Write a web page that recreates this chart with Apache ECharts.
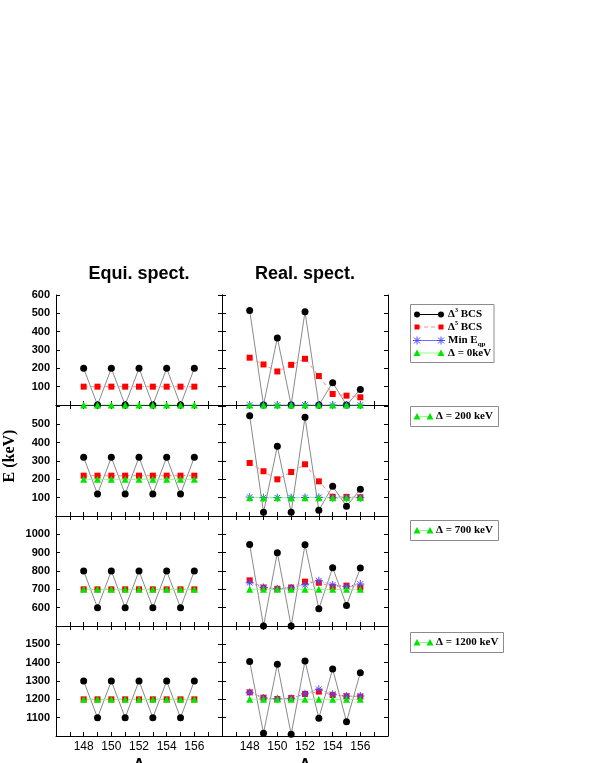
<!DOCTYPE html>
<html>
<head>
<meta charset="utf-8">
<script src="https://cdn.jsdelivr.net/npm/echarts@6/dist/echarts.min.js"></script>
<style>
  html, body { margin: 0; padding: 0; background: #fff; }
  #chart { width: 590px; height: 763px; }
</style>
</head>
<body>
<div id="chart"></div>
<script>
// mass numbers on the x axis
const massA = [148, 149, 150, 151, 152, 153, 154, 155, 156];
const xTickLabels = [148, 150, 152, 154, 156];

// one entry per row: Δ = 0, 200, 700, 1200 keV
const rowMin = [0, 0, 500, 1000];
const rowMax = [600, 600, 1100, 1600];
const gapLegend = ['0keV', '200 keV', '700 keV', '1200 keV'];

// Equi. spect.
const equiD3 = [
    [200, 0, 200, 0, 200, 0, 200, 0, 200],
    [320, 120, 320, 120, 320, 120, 320, 120, 320],
    [800, 600, 800, 600, 800, 600, 800, 600, 800],
    [1300, 1100, 1300, 1100, 1300, 1100, 1300, 1100, 1300]
];
const equiD5 = [
    [100, 100, 100, 100, 100, 100, 100, 100, 100],
    [220, 220, 220, 220, 220, 220, 220, 220, 220],
    [700, 700, 700, 700, 700, 700, 700, 700, 700],
    [1200, 1200, 1200, 1200, 1200, 1200, 1200, 1200, 1200]
];
const equiGap = [
    [0, 0, 0, 0, 0, 0, 0, 0, 0],
    [200, 200, 200, 200, 200, 200, 200, 200, 200],
    [700, 700, 700, 700, 700, 700, 700, 700, 700],
    [1200, 1200, 1200, 1200, 1200, 1200, 1200, 1200, 1200]
];

// Real. spect.
const realD3 = [
    [516, 0, 366, 0, 509, 0, 122, 0, 85],
    [547, 20, 380, 20, 538, 31, 162, 53, 146],
    [945, 500, 900, 500, 943, 594, 818, 612, 816],
    [1407, 1015, 1391, 1009, 1409, 1097, 1366, 1078, 1345]
];
const realD5 = [
    [258, 221, 183, 219, 252, 158, 60, 51, 42],
    [289, 244, 200, 240, 282, 189, 105, 104, 102],
    [749, 710, 703, 710, 742, 736, 714, 720, 710],
    [1238, 1209, 1202, 1207, 1229, 1242, 1224, 1217, 1215]
];
const realMinE = [
    [0, 0, 0, 0, 0, 0, 0, 0, 0],
    [103, 100, 100, 100, 101, 102, 100, 100, 100],
    [736, 710, 703, 708, 725, 747, 724, 715, 729],
    [1238, 1207, 1203, 1205, 1230, 1255, 1228, 1217, 1218]
];
const realGap = [
    [0, 0, 0, 0, 0, 0, 0, 0, 0],
    [100, 100, 100, 100, 100, 100, 100, 100, 100],
    [700, 700, 700, 700, 700, 700, 700, 700, 700],
    [1200, 1200, 1200, 1200, 1200, 1200, 1200, 1200, 1200]
];

const colLeft = [56, 222];
const colWidth = 166;
const rowTop = [295, 406, 516, 626];
const rowHeight = 110;

const sansFont = 'Liberation Sans';
const serifFont = 'Liberation Serif';
const asterisk = 'path://M5,0L5,10M0,5L10,5M1.5,1.5L8.5,8.5M1.5,8.5L8.5,1.5';

let toPoints = (vals) => massA.map((a, k) => [a, vals[k]]);

let grids = [], xAxes = [], yAxes = [], series = [];
let axisLine = { show: true, lineStyle: { color: '#000', width: 1 } };
let tick = { show: true, inside: true, length: 4, lineStyle: { color: '#000' } };

for (let row = 0; row < 4; row++) {
    for (let col = 0; col < 2; col++) {
        let g = grids.length;
        grids.push({ left: colLeft[col], top: rowTop[row], width: colWidth, height: rowHeight });
        let lastRow = row === 3;
        xAxes.push({
            type: 'value', gridIndex: g, position: 'bottom', min: 146, max: 158, interval: 1,
            axisLine: axisLine, axisTick: tick, splitLine: { show: false },
            axisLabel: {
                show: lastRow, margin: 5, color: '#000', fontFamily: sansFont, fontSize: 12,
                formatter: (v) => xTickLabels.indexOf(v) >= 0 ? String(v) : ''
            }
        });
        xAxes.push({
            type: 'value', gridIndex: g, position: 'top', min: 146, max: 158, interval: 1,
            axisLine: axisLine, axisTick: tick, splitLine: { show: false }, axisLabel: { show: false }
        });
        yAxes.push({
            type: 'value', gridIndex: g, position: 'left', min: rowMin[row], max: rowMax[row], interval: 100,
            axisLine: axisLine, axisTick: tick, splitLine: { show: false },
            axisLabel: {
                show: col === 0, margin: 6, color: '#000', fontFamily: sansFont, fontSize: 11, fontWeight: 'bold',
                formatter: (v) => (v === rowMin[row] || (v === rowMax[row] && row > 0)) ? '' : String(v)
            }
        });
        yAxes.push({
            type: 'value', gridIndex: g, position: 'right', min: rowMin[row], max: rowMax[row], interval: 100,
            axisLine: axisLine, axisTick: tick, splitLine: { show: false }, axisLabel: { show: false }
        });

        let d3 = col === 0 ? equiD3[row] : realD3[row];
        let d5 = col === 0 ? equiD5[row] : realD5[row];
        let gap = col === 0 ? equiGap[row] : realGap[row];
        let base = { type: 'line', xAxisIndex: 2 * g, yAxisIndex: 2 * g, animation: false, silent: true };

        series.push(Object.assign({}, base, {
            data: toPoints(d3), symbol: 'circle', symbolSize: 7,
            itemStyle: { color: '#000' }, lineStyle: { color: '#8a8a8a', width: 1 }
        }));
        series.push(Object.assign({}, base, {
            data: toPoints(d5), symbol: 'rect', symbolSize: 6,
            itemStyle: { color: '#ff0000' }, lineStyle: { color: '#ff8c8c', width: 1, type: [4, 3] }
        }));
        if (col === 1) {
            series.push(Object.assign({}, base, {
                data: toPoints(realMinE[row]), symbol: asterisk, symbolSize: 8,
                itemStyle: { color: 'rgba(0,0,0,0)', borderColor: '#4d4dff', borderWidth: 1 },
                lineStyle: { color: '#6f6fff', width: 1, type: [1, 2] }
            }));
        }
        series.push(Object.assign({}, base, {
            data: toPoints(gap), symbol: 'triangle', symbolSize: 7,
            itemStyle: { color: '#00e600' }, lineStyle: { color: '#8cff8c', width: 1 }
        }));
    }
}

// legends drawn as boxes at the right side
let graphic = [];
let legendText = (x, y, text, rich) => ({
    type: 'text', x: x, y: y,
    style: { text: text, rich: rich, fill: '#000', font: 'bold 11px "' + serifFont + '"', verticalAlign: 'middle' }
});
let richStyle = {
    b: { fontFamily: serifFont, fontWeight: 'bold', fontSize: 11, lineHeight: 14, verticalAlign: 'middle' },
    sup: { fontFamily: serifFont, fontWeight: 'bold', fontSize: 6, lineHeight: 14, verticalAlign: 'top' },
    sub: { fontFamily: serifFont, fontWeight: 'bold', fontSize: 7, lineHeight: 14, verticalAlign: 'bottom' }
};
let triangle = (cx, cy) => ({
    type: 'polygon', shape: { points: [[cx, cy - 3.5], [cx + 3.5, cy + 3], [cx - 3.5, cy + 3]] },
    style: { fill: '#00e600' }
});
let seg = (x1, y1, x2, y2, color, dash) => ({
    type: 'line', shape: { x1: x1, y1: y1, x2: x2, y2: y2 },
    style: { stroke: color, lineWidth: 1, lineDash: dash || null }
});
let star = (cx, cy) => [
    seg(cx, cy - 4, cx, cy + 4, '#4d4dff'),
    seg(cx - 4, cy, cx + 4, cy, '#4d4dff'),
    seg(cx - 3, cy - 3, cx + 3, cy + 3, '#4d4dff'),
    seg(cx - 3, cy + 3, cx + 3, cy - 3, '#4d4dff')
];

// first legend box
graphic.push({ type: 'rect', shape: { x: 410.5, y: 304.5, width: 83.5, height: 58 }, style: { fill: '#fff', stroke: '#8c8c8c', lineWidth: 1 } });
let ly = [314.5, 327, 340.5, 353];
graphic.push(seg(417, ly[0], 441, ly[0], '#000'));
graphic.push({ type: 'circle', shape: { cx: 417, cy: ly[0], r: 3 }, style: { fill: '#000' } });
graphic.push({ type: 'circle', shape: { cx: 441, cy: ly[0], r: 3 }, style: { fill: '#000' } });
graphic.push(legendText(448, ly[0], '{b|Δ}{sup|3}{b| BCS}', richStyle));
graphic.push(seg(417, ly[1], 441, ly[1], '#ff8c8c', [4, 3]));
graphic.push({ type: 'rect', shape: { x: 414.5, y: ly[1] - 2.5, width: 5, height: 5 }, style: { fill: '#ff0000' } });
graphic.push({ type: 'rect', shape: { x: 438.5, y: ly[1] - 2.5, width: 5, height: 5 }, style: { fill: '#ff0000' } });
graphic.push(legendText(448, ly[1], '{b|Δ}{sup|5}{b| BCS}', richStyle));
graphic.push(seg(417, ly[2], 441, ly[2], '#6f6fff'));
graphic.push(...star(417, ly[2]));
graphic.push(...star(441, ly[2]));
graphic.push(legendText(448, ly[2], '{b|Min E}{sub|qp}', richStyle));
graphic.push(seg(417, ly[3], 441, ly[3], '#8cff8c'));
graphic.push(triangle(417, ly[3]));
graphic.push(triangle(441, ly[3]));
graphic.push(legendText(448, ly[3], '{b|Δ = ' + gapLegend[0] + '}', richStyle));

// one small box per remaining row
let boxY = [406.5, 520.5, 632.5];
let boxW = [88, 88, 93];
for (let i = 0; i < 3; i++) {
    let cy = boxY[i] + 10;
    graphic.push({ type: 'rect', shape: { x: 410.5, y: boxY[i], width: boxW[i], height: 20 }, style: { fill: '#fff', stroke: '#8c8c8c', lineWidth: 1 } });
    graphic.push(seg(417, cy, 430, cy, '#8cff8c'));
    graphic.push(triangle(417, cy));
    graphic.push(triangle(430, cy));
    graphic.push(legendText(436, cy, '{b|Δ = ' + gapLegend[i + 1] + '}', richStyle));
}

// column titles, axis names
graphic.push({ type: 'text', x: 139, y: 274, style: { text: 'Equi. spect.', font: 'bold 18px "' + sansFont + '"', fill: '#000', align: 'center', verticalAlign: 'middle' } });
graphic.push({ type: 'text', x: 305, y: 274, style: { text: 'Real. spect.', font: 'bold 18px "' + sansFont + '"', fill: '#000', align: 'center', verticalAlign: 'middle' } });
graphic.push({ type: 'text', x: 10, y: 456, rotation: Math.PI / 2, style: { text: 'E (keV)', font: 'bold 16px "' + serifFont + '"', fill: '#000', align: 'center', verticalAlign: 'middle' } });
graphic.push({ type: 'text', x: 139, y: 766, style: { text: 'A', font: 'bold 16px "' + sansFont + '"', fill: '#000', align: 'center', verticalAlign: 'middle' } });
graphic.push({ type: 'text', x: 305, y: 766, style: { text: 'A', font: 'bold 16px "' + sansFont + '"', fill: '#000', align: 'center', verticalAlign: 'middle' } });

let myChart = echarts.init(document.querySelector('#chart'), null, { renderer: 'canvas' });
myChart.setOption({
    animation: false,
    backgroundColor: '#fff',
    grid: grids,
    xAxis: xAxes,
    yAxis: yAxes,
    series: series,
    graphic: graphic
});
</script>
</body>
</html>
